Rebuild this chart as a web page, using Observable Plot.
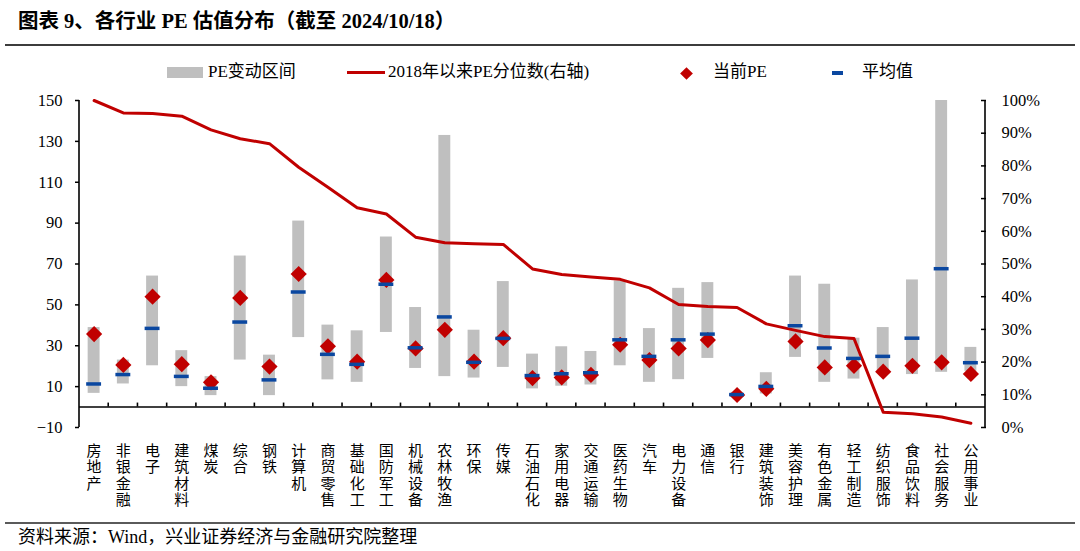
<!DOCTYPE html>
<html>
<head>
<meta charset="utf-8">
<script src="https://cdn.jsdelivr.net/npm/d3@7"></script>
<script src="https://cdn.jsdelivr.net/npm/@observablehq/plot@0.6"></script>
<style>
  html, body { margin: 0; padding: 0; background: #fff; }
  #wrap { position: relative; width: 1080px; height: 551px; overflow: hidden;
    font-family: "Liberation Serif", "Noto Sans CJK SC", serif; color: #000; }
  #chart { position: absolute; left: 0; top: 0; }
  .abs { position: absolute; white-space: nowrap; }
  .title { left: 18px; top: 8px; font-size: 20.5px; font-weight: bold; line-height: 26px; }
  .hr { left: 5px; width: 1070px; height: 1.5px; background: #3c3c3c; }
  .lg { font-size: 17px; line-height: 20px; top: 62px; }
  .src { left: 18px; top: 526px; font-size: 18px; line-height: 22px; }
  #dbg { position: absolute; left: 600px; top: 530px; font-size: 10px; color: red; }
</style>
</head>
<body>
<div id="wrap">
  <div id="chart"></div>
  <div class="abs title">图表 9、各行业 PE 估值分布（截至 2024/10/18）</div>
  <div class="abs hr" style="top:44px"></div>
  <div class="abs" style="left:167px;top:67px;width:36px;height:11px;background:#bfbfbf"></div>
  <div class="abs lg" style="left:208px">PE变动区间</div>
  <div class="abs" style="left:347px;top:71px;width:38px;height:3px;background:#c00000"></div>
  <div class="abs lg" style="left:388px">2018年以来PE分位数(右轴)</div>
  <div class="abs" style="left:682px;top:68.5px;width:9px;height:9px;background:#c00000;transform:rotate(45deg)"></div>
  <div class="abs lg" style="left:713px">当前PE</div>
  <div class="abs" style="left:832px;top:71px;width:11px;height:3.5px;background:#0a47a0"></div>
  <div class="abs lg" style="left:862px">平均值</div>
  <div class="abs hr" style="top:522px;background:#5a5a5a"></div>
  <div class="abs src">资料来源：Wind，兴业证券经济与金融研究院整理</div>
  <div id="dbg"></div>
</div>
<script>
const industries = ["房地产","非银金融","电子","建筑材料","煤炭","综合","钢铁","计算机","商贸零售","基础化工","国防军工","机械设备","农林牧渔","环保","传媒","石油石化","家用电器","交通运输","医药生物","汽车","电力设备","通信","银行","建筑装饰","美容护理","有色金属","轻工制造","纺织服饰","食品饮料","社会服务","公用事业"];
const peLow     = [6.7, 11.3, 20.2, 10, 5.6, 23, 5.6, 34, 13.3, 12.1, 36.5, 18.9, 14.9, 14.2, 19.4, 8.9, 10.2, 10.8, 20.2, 12.1, 13.4, 23.8, 4.8, 6.4, 24.3, 12.1, 13.7, 17, 15.9, 17, 17.5];
const peHigh    = [38.9, 23, 64.1, 27.6, 14.9, 73.9, 25.4, 91, 40.1, 37.3, 83.2, 48.7, 132.9, 37.6, 61.4, 25.9, 29.5, 27.2, 61.7, 38.4, 58.1, 60.9, 7.2, 16.8, 64.1, 60.1, 33.7, 38.9, 62.2, 150, 29.2];
const peCurrent = [35.7, 20.6, 54, 21, 12.1, 53.4, 19.8, 65.1, 29.7, 22.2, 62.2, 28.7, 37.8, 22.2, 33.7, 14.2, 14.5, 15.7, 30.5, 23, 28.7, 32.8, 5.9, 8.9, 32.1, 19.4, 20.2, 17.3, 20.2, 21.9, 16.2];
const peMean    = [11.3, 15.9, 38.5, 15, 9.2, 41.6, 13.3, 56.3, 25.8, 20.9, 60.1, 29, 44.1, 21.9, 33.6, 15.4, 16.3, 16.8, 32.9, 24.8, 32.9, 35.7, 6.1, 10.1, 39.8, 28.9, 23.8, 24.8, 33.7, 67.7, 21.7];
const pctRank   = [100, 96.2, 96, 95.2, 91, 88.3, 86.8, 79.6, 73.5, 67.2, 65.3, 58.2, 56.5, 56.2, 56, 48.5, 46.8, 46, 45.3, 42.7, 37.6, 37, 36.7, 31.7, 29.7, 27.8, 27.2, 4.7, 4.2, 3.2, 1.3];
const leftTicks = [-10, 10, 30, 50, 70, 90, 110, 130, 150];
const rightTicks = [0, 10, 20, 30, 40, 50, 60, 70, 80, 90, 100];

const yMin = -10, yMax = 150;
const pctToY = p => yMin + (yMax - yMin) * p / 100;

const data = industries.map((name, i) => ({
  name, low: peLow[i], high: peHigh[i], cur: peCurrent[i], mean: peMean[i], pct: pctRank[i]
}));

const font = '"Liberation Serif", "Noto Sans CJK SC", serif';

const plot = Plot.plot({
  width: 1080,
  height: 551,
  marginTop: 100,
  marginBottom: 124,
  marginLeft: 79,
  marginRight: 95,
  style: { fontFamily: font, fontSize: "16.5px", color: "#000", background: "transparent", overflow: "visible" },
  x: { domain: industries, paddingInner: 0.49, paddingOuter: 0.245, round: false, axis: null },
  y: { domain: [yMin, yMax], axis: null },
  marks: [
    Plot.barY(data, { x: "name", y1: "low", y2: "high", fill: "#bfbfbf", insetLeft: 1.5, insetRight: 1.5 }),
    Plot.ruleY([0], { stroke: "#000", strokeWidth: 1.6 }),
    Plot.line(data, { x: "name", y: d => pctToY(d.pct), stroke: "#c00000", strokeWidth: 3, strokeLinejoin: "round" }),
    Plot.dot(data, { x: "name", y: "cur", symbol: "diamond2", r: 7.3, fill: "#c00000", stroke: "none" }),
    Plot.tickY(data, { x: "name", y: "mean", stroke: "#0a47a0", strokeWidth: 3.5 }),
    Plot.axisY({ anchor: "left", ticks: leftTicks, tickSize: 4, tickPadding: 13, fontSize: 16.5, stroke: "#000", strokeWidth: 1.5 }),
    Plot.axisY({ anchor: "right", ticks: rightTicks.map(pctToY), tickFormat: d => `${Math.round((d - yMin) * 100 / (yMax - yMin))}%`, tickSize: 5, dx: -5, tickPadding: 16, fontSize: 16.5, stroke: "#000", strokeWidth: 1.5 }),
    Plot.axisX({ anchor: "bottom", label: null, tickSize: 0, tickPadding: 17, fontSize: 15, lineHeight: 1.09, tickFormat: d => d.split("").join("\n") })
  ]
});

document.getElementById("chart").appendChild(plot);

// axis lines and category boundary ticks drawn with the plot's own scales
try {
  const xs = plot.scale("x"), ys = plot.scale("y");
  const NS = "http://www.w3.org/2000/svg";
  const g = document.createElementNS(NS, "g");
  g.setAttribute("stroke", "#000");
  g.setAttribute("stroke-width", "1.6");
  plot.appendChild(g);
  const addLine = (x1, y1, x2, y2) => {
    const l = document.createElementNS(NS, "line");
    l.setAttribute("x1", x1); l.setAttribute("y1", y1);
    l.setAttribute("x2", x2); l.setAttribute("y2", y2);
    g.appendChild(l);
  };
  const xr0 = Math.min(...xs.range), xr1 = Math.max(...xs.range);
  const yTop = ys.apply(yMax), yBot = ys.apply(yMin), y0 = ys.apply(0);
  addLine(xr0, yTop, xr0, yBot);
  addLine(xr1, yTop, xr1, yBot);
  for (let i = 0; i < industries.length - 1; i++) {
    const bx = (xs.apply(industries[i]) + xs.apply(industries[i + 1])) / 2 + xs.bandwidth / 2;
    addLine(bx, y0, bx, y0 - 4);
  }
} catch (e) {
  document.getElementById("dbg").textContent = String(e);
}
</script>
</body>
</html>
